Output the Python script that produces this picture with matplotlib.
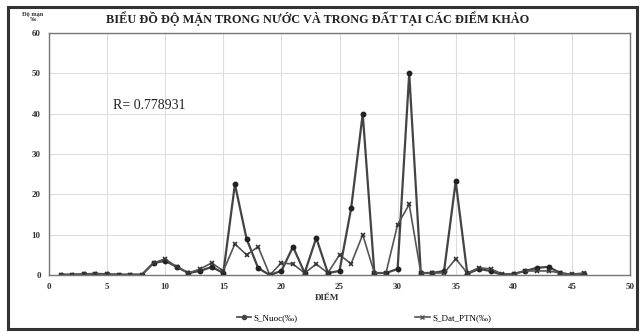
import matplotlib
matplotlib.use("Agg")
import matplotlib.pyplot as plt
from matplotlib.patches import Rectangle
from matplotlib.lines import Line2D

points = list(range(1, 47))
s_nuoc = [0.1, 0.1, 0.2, 0.3, 0.2, 0.1, 0.1, 0.1, 3.0, 3.5, 2.0, 0.5, 1.0, 2.0, 0.5,
          22.5, 9.0, 1.7, 0.0, 1.0, 7.0, 0.5, 9.2, 0.5, 1.0, 16.5, 40.0, 0.5, 0.5, 1.5,
          50.0, 0.5, 0.5, 1.0, 23.2, 0.3, 1.5, 1.0, 0.0, 0.3, 1.0, 1.8, 2.0, 0.5, 0.0, 0.3]
s_dat = [0.1, 0.1, 0.2, 0.3, 0.2, 0.1, 0.1, 0.1, 3.0, 4.0, 2.0, 0.5, 1.5, 3.0, 1.0,
         7.7, 5.0, 7.0, 0.0, 3.0, 2.7, 0.5, 2.7, 0.5, 5.0, 2.8, 10.0, 0.5, 0.5, 12.5,
         17.5, 0.5, 0.5, 0.5, 4.0, 0.5, 1.8, 1.5, 0.3, 0.3, 1.0, 1.0, 1.0, 0.5, 0.2, 0.5]
xticks = [0, 5, 10, 15, 20, 25, 30, 35, 40, 45, 50]
yticks = [0, 10, 20, 30, 40, 50, 60]
title = "BIỂU ĐỒ ĐỘ MẶN TRONG NƯỚC VÀ TRONG ĐẤT TẠI CÁC ĐIỂM KHẢO"
r_text = "R= 0.778931"

W, H = 641, 332
fig = plt.figure(figsize=(W / 100, H / 100), dpi=100)
fig.patch.set_facecolor("white")
serif = ["Liberation Serif", "DejaVu Serif"]

# outer frame
fig.add_artist(Rectangle((8 / W, 3 / H), 629 / W, 322 / H, transform=fig.transFigure,
                         fill=False, edgecolor="#333333", linewidth=2.2))

ax = fig.add_axes([49 / W, 1 - 275 / H, 581 / W, 242 / H])
ax.set_xlim(0, 50)
ax.set_ylim(0, 60)
ax.set_xticks(xticks)
ax.set_yticks(yticks)
ax.tick_params(length=0, pad=6, labelsize=6.5, colors="#333333")
for lab in ax.get_xticklabels() + ax.get_yticklabels():
    lab.set_fontfamily(serif)
    lab.set_fontweight("bold")
ax.grid(True, color="#dddddd", linewidth=0.8)
for sp in ax.spines.values():
    sp.set_color("#777777")
    sp.set_linewidth(1.0)

ax.plot(points, s_nuoc, color="#444444", linewidth=1.6, marker="o", markersize=3.2,
        markerfacecolor="#222222", markeredgecolor="#222222")
ax.plot(points, s_dat, color="#555555", linewidth=1.2, marker="x", markersize=3.5,
        markeredgecolor="#333333", markeredgewidth=1.2)

ax.text(5.5, 42, r_text, fontsize=10, family=serif, color="#222222", va="center")

fig.text(318 / W, 1 - 19 / H, title, fontsize=8.8, family=serif, fontweight="bold",
         ha="center", va="center", color="#222222")
fig.text(33 / W, 1 - 17 / H, "Độ mặn\n‰", fontsize=4.5, family=serif, fontweight="bold",
         ha="center", va="center", color="#333333", linespacing=1.0)
fig.text(327 / W, 1 - 298 / H, "ĐIỂM", fontsize=6.5, family=serif, fontweight="bold",
         ha="center", va="center", color="#333333")

h1 = Line2D([], [], color="#444444", linewidth=1.2, marker="o", markersize=3)
h2 = Line2D([], [], color="#555555", linewidth=1.2, marker="x", markersize=3.5)
leg = fig.legend([h1, h2], ["S_Nuoc(‰)", "S_Dat_PTN(‰)"], loc="center",
                 bbox_to_anchor=(364 / W, 1 - 318 / H), ncol=2, frameon=False,
                 prop={"family": serif, "size": 6.5}, handlelength=1.6, columnspacing=13,
                 handletextpad=0.3)

fig.savefig("out.png", dpi=100, facecolor="white")
